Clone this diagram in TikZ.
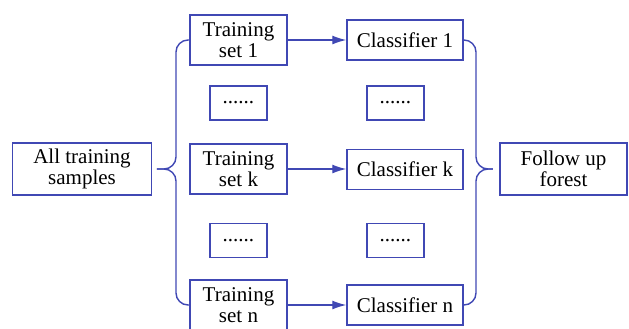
\documentclass[tikz,border=0pt]{standalone}
\usepackage{fontspec}
\setmainfont{Liberation Serif}
\newfontfamily\boxfont{Liberation Serif}
\usetikzlibrary{arrows.meta}
\definecolor{boxblue}{RGB}{64,72,180}

\tikzstyle{box}=[draw=boxblue, line width=0.7pt, fill=white, inner sep=1pt, align=center, font=\boxfont\fontsize{10.5}{10.5}\selectfont]
\tikzstyle{setbox}=[box, minimum width=48.5pt, minimum height=25pt]
\tikzstyle{clsbox}=[box, minimum width=58pt, minimum height=20pt]
\tikzstyle{bigbox}=[box, minimum height=26pt]
\tikzstyle{dotbox}=[box, minimum width=28.5pt, minimum height=17pt]
\tikzstyle{link}=[draw=boxblue, line width=0.7pt]
\tikzstyle{flow}=[link, -{Latex[length=7pt,width=4.5pt]}]

\begin{document}
\begin{tikzpicture}[x=0.5pt,y=-0.5pt]
            \useasboundingbox (0,0) rectangle (629,328);
            \node[bigbox, minimum width=69.5pt] at (82,169) (all) {All training\\samples};
            \node[setbox] at (238.5,40) (ts1) {Training\\set 1};
            \node[dotbox] at (238.5,103) (d1) {......};
            \node[setbox] at (238.5,169) (tsk) {Training\\set k};
            \node[dotbox] at (238.5,240.5) (d2) {......};
            \node[setbox] at (238.5,305) (tsn) {Training\\set n};
            \node[clsbox] at (405,40) (c1) {Classifier 1};
            \node[dotbox] at (395.5,103) (e1) {......};
            \node[clsbox] at (405,169.5) (ck) {Classifier k};
            \node[dotbox] at (395.5,240.5) (e2) {......};
            \node[clsbox] at (405,305) (cn) {Classifier n};
            \node[bigbox, minimum width=63.5pt] at (563.5,169) (fu) {Follow up\\forest};
            % braces
            \coordinate (lb) at (176,169);
            \coordinate (ltip) at (157,169);
            \coordinate (rb) at (476,169);
            \coordinate (rtip) at (493,169);
            \draw[link, rounded corners=6pt] (ts1.west) -| (lb) -- (ltip);
            \draw[link, rounded corners=6pt] (tsn.west) -| (lb) -- (ltip);
            \draw[link, rounded corners=6pt] (c1.east) -| (rb) -- (rtip);
            \draw[link, rounded corners=6pt] (cn.east) -| (rb) -- (rtip);
            % arrows
            \draw (ts1) edge[flow] (c1);
            \draw (tsk.east) edge[flow] (tsk.east -| ck.west);
            \draw (tsn) edge[flow] (cn);
        \end{tikzpicture}
\end{document}
